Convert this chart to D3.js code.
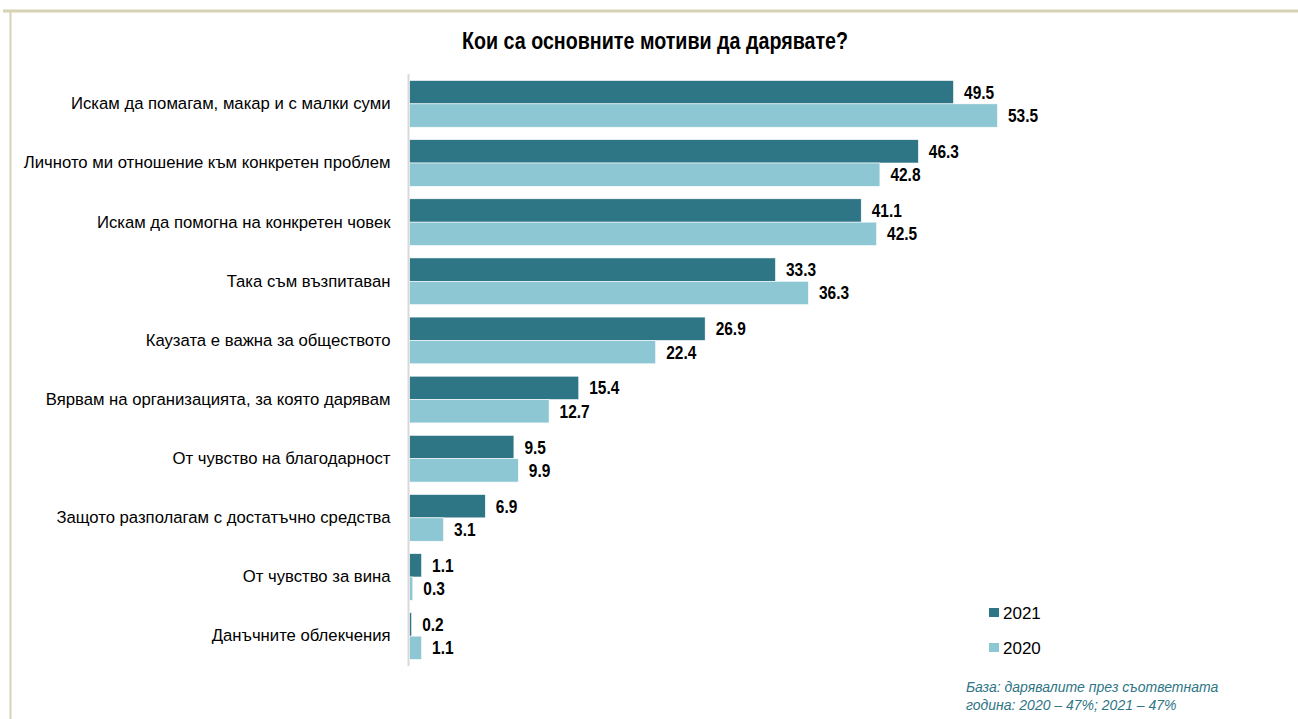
<!DOCTYPE html>
<html><head><meta charset="utf-8">
<script src="https://cdn.jsdelivr.net/npm/d3@7"></script>
<style>
body{margin:0;background:#fff;}
svg{display:block;}
</style></head><body>
<svg id="c" width="1298" height="719"></svg>
<script>
const categories = [
  "Искам да помагам, макар и с малки суми",
  "Личното ми отношение към конкретен проблем",
  "Искам да помогна на конкретен човек",
  "Така съм възпитаван",
  "Каузата е важна за обществото",
  "Вярвам на организацията, за която дарявам",
  "От чувство на благодарност",
  "Защото разполагам с достатъчно средства",
  "От чувство за вина",
  "Данъчните облекчения"
];
const series = ["2021", "2020"];
const values2021 = [49.5, 46.3, 41.1, 33.3, 26.9, 15.4, 9.5, 6.9, 1.1, 0.2];
const values2020 = [53.5, 42.8, 42.5, 36.3, 22.4, 12.7, 9.9, 3.1, 0.3, 1.1];
const colors = ["#2e7585", "#8cc7d3"];
const title = "Кои са основните мотиви да дарявате?";
const footnote = ["База: дарявалите през съответната", "година: 2020 – 47%; 2021 – 47%"];

const font = "'Liberation Sans',Arial,sans-serif";
const svg = d3.select("#c");

// frame
svg.append("line").attr("x1",3).attr("x2",1298).attr("y1",11).attr("y2",11).attr("stroke","#d6d2b4").attr("stroke-width",3);
svg.append("line").attr("x1",10.5).attr("x2",10.5).attr("y1",11).attr("y2",719).attr("stroke","#d6d2b4").attr("stroke-width",2);

svg.append("text").attr("transform","translate(655,49) scale(0.82,1)").attr("text-anchor","middle")
  .attr("font-family",font).attr("font-weight","bold").attr("font-size",24).attr("fill","#000").text(title);

const x0 = 409.5;
const x = d3.scaleLinear().domain([0, 53.5]).range([x0, 997.5]);
const y = d3.scaleBand().domain(categories).range([74, 666]).paddingInner(0.21).paddingOuter(0.11);
const ys = d3.scaleBand().domain(series).range([0, y.bandwidth()]);

const data = categories.map((c,i)=>({c, v:[values2021[i], values2020[i]]}));
const g = svg.append("g");
const grp = g.selectAll("g.grp").data(data).join("g").attr("transform",d=>`translate(0,${y(d.c)})`);
grp.selectAll("rect").data(d=>d.v.map((v,j)=>({v,s:series[j],j}))).join("rect")
  .attr("x",x(0)).attr("y",d=>ys(d.s)).attr("width",d=>x(d.v)-x(0)).attr("height",ys.bandwidth())
  .attr("fill",d=>colors[d.j]).attr("stroke","#fff").attr("stroke-width",0.6);
grp.selectAll("text").data(d=>d.v.map((v,j)=>({v,s:series[j],j}))).join("text")
  .attr("transform",d=>`translate(${x(d.v)+10.5},${ys(d.s)+ys.bandwidth()/2}) scale(0.86,1)`).attr("dy","0.36em")
  .attr("font-family",font).attr("font-weight","bold").attr("font-size",18).attr("fill","#000")
  .text(d=>d.v.toFixed(1));

// category axis
const yAxis = d3.axisLeft(y).tickSize(0).tickPadding(18);
const ax = svg.append("g").attr("transform",`translate(${x0-1},0)`).call(yAxis);
ax.select(".domain").remove();
ax.selectAll("text").attr("font-family",font).attr("font-size",16.7).attr("fill","#000");
svg.append("line").attr("x1",408.5).attr("x2",408.5).attr("y1",74).attr("y2",666).attr("stroke","#d9d9d9").attr("stroke-width",2);

// legend
const leg = svg.append("g").attr("transform","translate(989,0)");
series.forEach((s,i)=>{
  const yy = 612.5 + i*35;
  leg.append("rect").attr("x",0).attr("y",yy-4.5).attr("width",10).attr("height",9).attr("fill",colors[i]);
  leg.append("text").attr("x",14).attr("y",yy).attr("dy","0.36em").attr("font-family",font).attr("font-size",17).attr("fill","#000").text(s);
});

// footnote
footnote.forEach((t,i)=>{
  svg.append("text").attr("x",966).attr("y",692+i*18).attr("font-family",font)
    .attr("font-style","italic").attr("font-size",14).attr("fill","#2e7585").text(t);
});
</script>
</body></html>
